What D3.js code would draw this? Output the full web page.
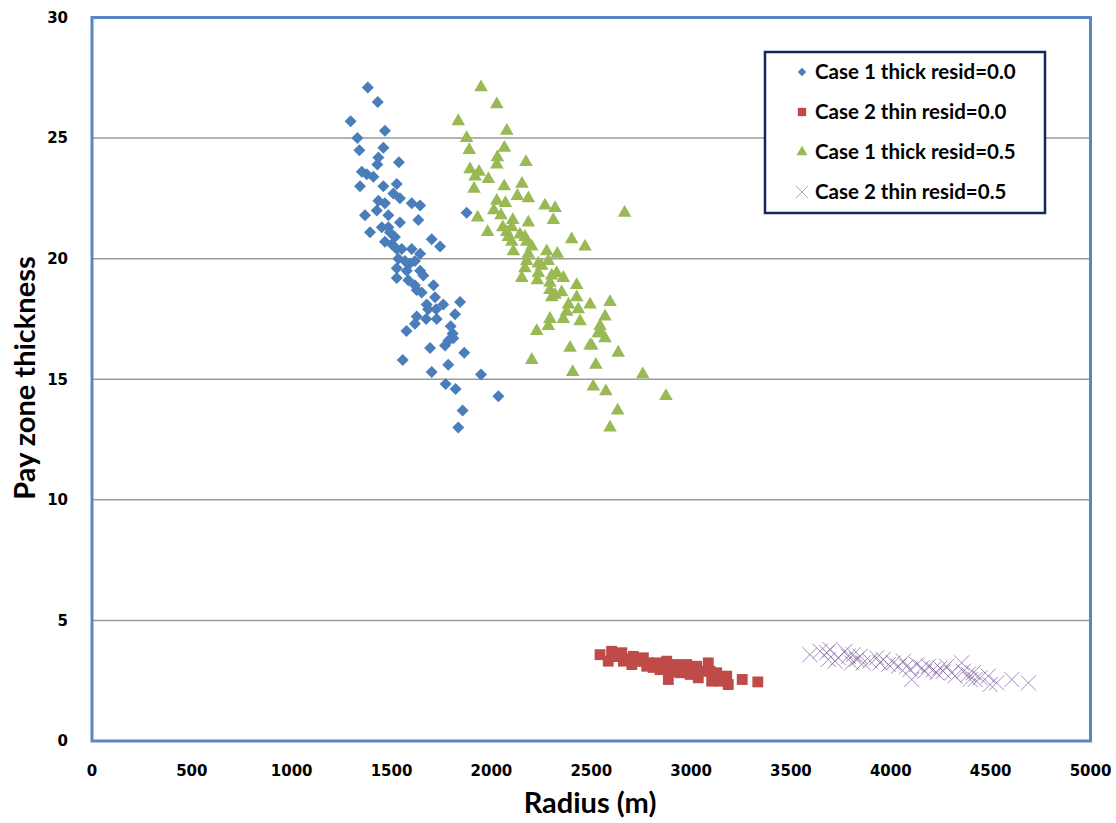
<!DOCTYPE html>
<html>
<head>
<meta charset="utf-8">
<script src="https://cdn.jsdelivr.net/npm/d3@7"></script>
<style>
    html, body { margin: 0; padding: 0; background: #ffffff; }
    .tick-label { font-family: "DejaVu Sans", Verdana, sans-serif; font-weight: bold; font-size: 15px; fill: #000; }
    .axis-title { font-family: Lato, "Open Sans", sans-serif; font-weight: bold; fill: #000; }
    .legend-text { font-family: Lato, "Open Sans", sans-serif; font-weight: bold; font-size: 20.5px; fill: #000; }
</style>
</head>
<body>
<div id="chart"></div>
<script>
// series values: [radius (m), pay zone thickness]
var thickResid00 = [
    [1381, 27.1], [1431, 26.5], [1295, 25.7], [1467, 25.3], [1329, 25.0], [1339, 24.5],
    [1459, 24.6], [1434, 24.2], [1429, 23.9], [1537, 24.0], [1351, 23.6], [1376, 23.5],
    [1409, 23.4], [1342, 23.0], [1459, 23.0], [1526, 23.1], [1509, 22.7], [1542, 22.5],
    [1434, 22.4], [1467, 22.3], [1601, 22.3], [1643, 22.2], [1426, 22.0], [1367, 21.8],
    [1484, 21.8], [1634, 21.6], [1876, 21.9], [1542, 21.5], [1451, 21.3], [1484, 21.3],
    [1392, 21.1], [1492, 21.1], [1517, 20.9], [1467, 20.7], [1501, 20.6], [1701, 20.8],
    [1743, 20.5], [1526, 20.4], [1551, 20.4], [1601, 20.4], [1643, 20.2], [1534, 20.0],
    [1567, 19.9], [1592, 19.8], [1617, 19.9], [1526, 19.6], [1576, 19.5], [1643, 19.5],
    [1659, 19.3], [1526, 19.2], [1584, 19.1], [1617, 18.9], [1626, 18.7], [1651, 18.6],
    [1710, 18.9], [1676, 18.1], [1718, 18.4], [1759, 18.1], [1843, 18.2], [1723, 17.9],
    [1683, 17.9], [1626, 17.6], [1673, 17.5], [1726, 17.5], [1818, 17.7], [1617, 17.3],
    [1575, 17.0], [1796, 17.2], [1806, 16.9], [1784, 16.6], [1768, 16.4], [1809, 16.7],
    [1693, 16.3], [1864, 16.1], [1556, 15.8], [1784, 15.6], [1701, 15.3], [1948, 15.2],
    [1771, 14.8], [1821, 14.6], [2035, 14.3], [1856, 13.7], [1834, 13.0]
];

var thinResid00 = [
    [2544, 3.58], [2602, 3.72], [2585, 3.31], [2653, 3.66], [2661, 3.31], [2711, 3.51],
    [2703, 3.17], [2761, 3.45], [2778, 3.10], [2786, 3.24], [2828, 3.24], [2844, 2.96],
    [2878, 3.31], [2894, 2.89], [2886, 2.55], [2928, 3.17], [2944, 2.83], [2978, 3.17],
    [2995, 2.76], [3028, 3.10], [3036, 2.62], [3086, 3.24], [3095, 2.89], [3103, 2.48],
    [3128, 2.83], [3145, 2.48], [3178, 2.69], [3186, 2.34], [3256, 2.55], [3334, 2.45],
    [2620, 3.50], [2690, 3.40], [2740, 3.30], [2810, 3.05], [2920, 2.95], [2960, 3.00],
    [3060, 2.90], [3010, 2.85]
];

var thickResid05 = [
    [1948, 27.1], [2027, 26.4], [1834, 25.7], [2077, 25.3], [1876, 25.0], [1889, 24.5],
    [2065, 24.6], [2030, 24.2], [2027, 23.9], [2173, 24.0], [1893, 23.7], [1938, 23.6],
    [1918, 23.4], [1985, 23.3], [1913, 22.9], [2064, 23.0], [2153, 23.1], [2130, 22.6],
    [2185, 22.5], [2027, 22.4], [2070, 22.3], [2012, 22.0], [2048, 21.8], [2268, 22.2],
    [2319, 22.1], [2667, 21.9], [1931, 21.7], [2107, 21.6], [2102, 21.3], [2185, 21.5],
    [2310, 21.6], [2057, 21.3], [1981, 21.1], [2077, 21.1], [2143, 21.0], [2168, 20.9],
    [2085, 20.9], [2402, 20.8], [2469, 20.5], [2102, 20.7], [2177, 20.7], [2202, 20.5],
    [2110, 20.3], [2185, 20.2], [2277, 20.3], [2330, 20.2], [2177, 19.9], [2168, 19.6],
    [2235, 19.8], [2252, 19.7], [2285, 19.9], [2152, 19.2], [2230, 19.1], [2235, 19.4],
    [2302, 19.3], [2327, 19.4], [2360, 19.2], [2293, 19.0], [2293, 18.7], [2319, 18.5],
    [2302, 18.4], [2352, 18.6], [2427, 18.9], [2427, 18.4], [2435, 17.9], [2386, 18.1],
    [2377, 17.8], [2360, 17.5], [2494, 18.1], [2594, 18.2], [2293, 17.5], [2285, 17.2],
    [2444, 17.4], [2569, 17.6], [2544, 17.2], [2535, 16.9], [2569, 16.7], [2552, 16.9],
    [2502, 16.4], [2494, 16.4], [2227, 17.0], [2394, 16.3], [2635, 16.1], [2202, 15.8],
    [2523, 15.6], [2407, 15.3], [2758, 15.2], [2510, 14.7], [2573, 14.5], [2874, 14.3],
    [2632, 13.7], [2594, 13.0]
];

var thinResid05 = [
    [3595, 3.58], [3646, 3.72], [3679, 3.66], [3696, 3.79], [3687, 3.38], [3721, 3.31],
    [3737, 3.45], [3771, 3.72], [3787, 3.51], [3812, 3.58], [3829, 3.38], [3846, 3.51],
    [3804, 3.24], [3862, 3.24], [3896, 3.31], [3929, 3.45], [3946, 3.24], [3962, 3.38],
    [3988, 3.17], [4013, 3.24], [4038, 3.10], [4063, 3.31], [4080, 3.10], [4096, 2.96],
    [4105, 2.55], [4130, 3.17], [4155, 3.03], [4171, 2.89], [4188, 3.10], [4213, 2.96],
    [4230, 2.83], [4246, 3.03], [4263, 2.89], [4280, 3.10], [4305, 2.83], [4322, 2.69],
    [4355, 3.24], [4363, 2.89], [4388, 2.76], [4413, 2.83], [4422, 2.55], [4397, 2.55],
    [4447, 2.62], [4488, 2.69], [4497, 2.34], [4530, 2.41], [4606, 2.55], [4689, 2.41]
];

var seriesNames = [
    'Case 1 thick resid=0.0',
    'Case 2 thin resid=0.0',
    'Case 1 thick resid=0.5',
    'Case 2 thin resid=0.5'
];

var xTicks = [0, 500, 1000, 1500, 2000, 2500, 3000, 3500, 4000, 4500, 5000];
var yTicks = [0, 5, 10, 15, 20, 25, 30];

var width = 1116;
var height = 823;
var margin = { left: 92, right: 25.5, top: 17.5, bottom: 82 };

var svg = d3.select('#chart')
    .append('svg')
    .attr('width', width)
    .attr('height', height)
    .style('background-color', '#FFFFFF');

var x = d3.scaleLinear().domain([0, 5000]).range([margin.left, width - margin.right]);
var y = d3.scaleLinear().domain([0, 30]).range([height - margin.bottom, margin.top]);

// horizontal gridlines
svg.append('g')
    .selectAll('line')
    .data(yTicks.filter(function (d) { return d > 0 && d < 30; }))
    .enter().append('line')
    .attr('x1', x(0)).attr('x2', x(5000))
    .attr('y1', function (d) { return y(d); })
    .attr('y2', function (d) { return y(d); })
    .attr('stroke', '#9a9a9a')
    .attr('stroke-width', 1.5);

// tick labels
svg.append('g')
    .selectAll('text')
    .data(yTicks)
    .enter().append('text')
    .attr('class', 'tick-label')
    .attr('x', 68)
    .attr('y', function (d) { return y(d); })
    .attr('dy', '0.36em')
    .attr('text-anchor', 'end')
    .text(function (d) { return d; });

svg.append('g')
    .selectAll('text')
    .data(xTicks)
    .enter().append('text')
    .attr('class', 'tick-label')
    .attr('x', function (d) { return x(d); })
    .attr('y', 776)
    .attr('text-anchor', 'middle')
    .text(function (d) { return d; });

// axis titles
svg.append('text')
    .attr('class', 'axis-title')
    .attr('transform', 'translate(35,378) rotate(-90)')
    .attr('text-anchor', 'middle')
    .style('font-size', '29px')
    .text('Pay zone thickness');

svg.append('text')
    .attr('class', 'axis-title')
    .attr('x', 590)
    .attr('y', 813)
    .attr('text-anchor', 'middle')
    .style('font-size', '29px')
    .text('Radius (m)');

// marker styles, one per series
var styles = [
    { data: thickResid00, type: d3.symbolSquare, size: 72, rotate: 45, fill: '#4a7ebb', stroke: 'none', legendSize: 36 },
    { data: thinResid00, type: d3.symbolSquare, size: 118, rotate: 0, fill: '#be4b48', stroke: 'none', legendSize: 70 },
    { data: thickResid05, type: d3.symbolTriangle, size: 80, rotate: 0, fill: '#98b954', stroke: 'none', legendSize: 52 },
    { data: thinResid05, type: d3.symbolX, size: 150, rotate: 0, fill: 'none', stroke: '#8064a2', legendSize: 95 }
];

var plot = svg.append('g');

styles.forEach(function (s) {
    var path = d3.symbol().type(s.type).size(s.size)();
    plot.append('g')
        .selectAll('path')
        .data(s.data)
        .enter().append('path')
        .attr('d', path)
        .attr('transform', function (d) {
            return 'translate(' + x(d[0]) + ',' + y(d[1]) + ') rotate(' + s.rotate + ')';
        })
        .attr('fill', s.fill)
        .attr('stroke', s.stroke)
        .attr('stroke-width', 1)
        .attr('stroke-opacity', 0.75);
});

// plot border on top
svg.append('rect')
    .attr('x', x(0)).attr('y', y(30))
    .attr('width', x(5000) - x(0))
    .attr('height', y(0) - y(30))
    .attr('fill', 'none')
    .attr('stroke', '#5b87c0')
    .attr('stroke-width', 3);

// legend
var legend = svg.append('g').attr('transform', 'translate(765,52)');

legend.append('rect')
    .attr('width', 280)
    .attr('height', 161)
    .attr('fill', '#ffffff')
    .attr('stroke', '#14265e')
    .attr('stroke-width', 2.5);

styles.forEach(function (s, i) {
    var row = legend.append('g').attr('transform', 'translate(0,' + (20 + i * 40) + ')');
    row.append('path')
        .attr('d', d3.symbol().type(s.type).size(s.legendSize)())
        .attr('transform', 'translate(37,0) rotate(' + s.rotate + ')')
        .attr('fill', s.fill)
        .attr('stroke', s.stroke)
        .attr('stroke-width', 1)
        .attr('stroke-opacity', 0.6);
    row.append('text')
        .attr('class', 'legend-text')
        .attr('x', 50)
        .attr('dy', '0.35em')
        .text(seriesNames[i]);
});
</script>
</body>
</html>
